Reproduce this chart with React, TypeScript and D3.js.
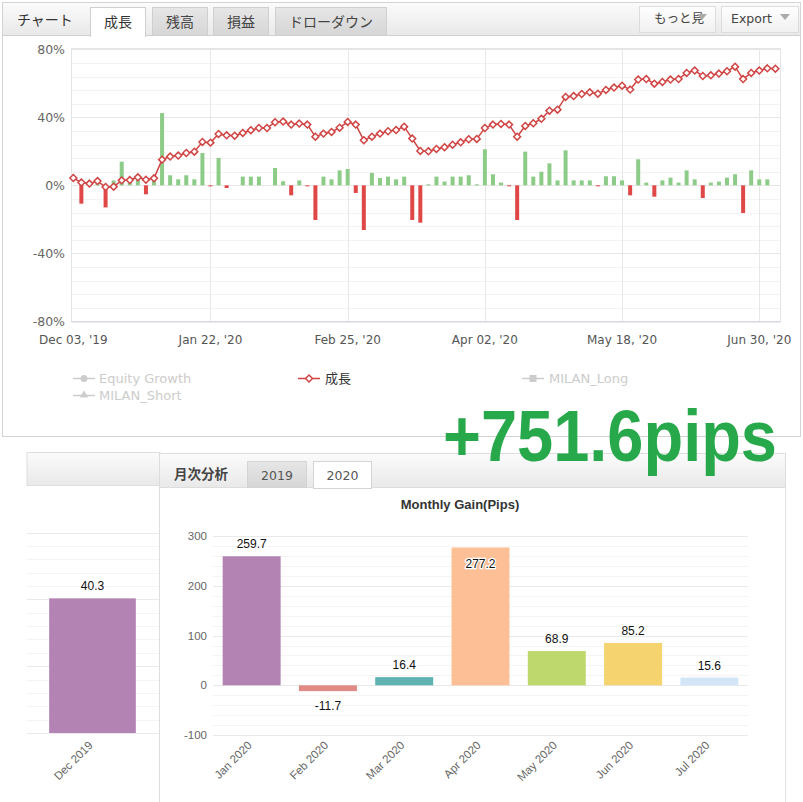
import React, { useRef, useEffect } from "react";
import * as d3 from "d3";

// 成長 (%), one point per step
const growth = [
  4.3, 1.6, 1.0, 2.5, -1.0, -0.8, 2.9, 3.1, 4.7, 3.3, 4.1, 15.1, 16.9, 17.5, 19.0, 19.8, 25.5, 25.1,
  30.2, 29.4, 29.2, 30.8, 32.4, 33.7, 33.7, 37.1, 37.5, 35.7, 36.3, 35.7, 28.6, 30.4, 31.4, 33.9,
  37.3, 35.7, 26.5, 28.6, 30.4, 31.8, 32.5, 34.5, 27.5, 20.2, 20.0, 21.4, 22.4, 23.9, 25.3, 27.1,
  27.3, 33.7, 35.7, 36.1, 35.7, 28.6, 34.9, 36.5, 39.1, 43.9, 44.5, 52.0, 52.5, 53.7, 54.7, 53.9,
  56.1, 57.5, 58.6, 56.3, 62.2, 62.5, 59.8, 60.8, 62.2, 62.5, 66.1, 67.5, 64.3, 64.7, 65.7, 67.1,
  69.8, 62.5, 66.1, 67.5, 68.8, 68.6,
];

// per-step gain bars (%)
const stepGain = [
  0, -10.8, 0, 2, -13, 2.9, 13.9, 2.5, 4.3, -5.3, 2.9, 42.5, 5.9, 3.5, 5.9, 3.5, 19.0, -0.6, 16.1,
  -1.6, 0, 5.1, 5.1, 5.1, 0, 10.2, 2.4, -5.9, 2.9, -0.6, -20.4, 5.1, 3.5, 8.8, 9.6, -4.5, -26.3,
  7.3, 4.3, 5.1, 3.5, 5.1, -20.4, -22.0, 0.6, 5.1, 2.2, 5.1, 5.1, 5.9, 0.6, 21.2, 6.5, 1.6, -0.6,
  -20.4, 19.8, 5.1, 8.0, 12.9, 2.9, 20.6, 2.9, 2.9, 2.9, -0.6, 5.3, 5.3, 2.9, -5.9, 15.3, 1.6,
  -6.7, 2.9, 4.5, 1.6, 8.8, 3.5, -7.5, 1.6, 2.2, 4.5, 6.5, -16.3, 8.8, 3.5, 3.5, 0,
];

const xTickIndex = [0, 17, 34, 51, 68, 85];
const xTickLabels = ["Dec 03, '19", "Jan 22, '20", "Feb 25, '20", "Apr 02, '20", "May 18, '20", "Jun 30, '20"];
const yTicks = [80, 40, 0, -40, -80];

const tabs = ["成長", "残高", "損益", "ドローダウン"];

const months2019 = ["Dec 2019"];
const pips2019 = [40.3];
const months2020 = ["Jan 2020", "Feb 2020", "Mar 2020", "Apr 2020", "May 2020", "Jun 2020", "Jul 2020"];
const pips2020 = [259.7, -11.7, 16.4, 277.2, 68.9, 85.2, 15.6];
const barColors = ["#b384b3", "#e08a86", "#5fb3b3", "#fdbf96", "#bfd86e", "#f5d36e", "#d3e6f7"];
const pipTicks = [300, 200, 100, 0, -100];

const SANS = "'DejaVu Sans', Verdana, sans-serif";
const ARIAL = "'Liberation Sans', Arial, sans-serif";
const JP = "'Noto Sans CJK JP', sans-serif";

const App: React.FC = () => {
  const svgRef = useRef<SVGSVGElement | null>(null);

  useEffect(() => {
    if (!svgRef.current) return;
    const svg = d3.select(svgRef.current);
    svg.selectAll("*").remove();

    const defs = svg.append("defs");
    const grad = (id: string, a: string, b: string) => {
      const g = defs.append("linearGradient").attr("id", id).attr("x1", 0).attr("y1", 0).attr("x2", 0).attr("y2", 1);
      g.append("stop").attr("offset", "0%").attr("stop-color", a);
      g.append("stop").attr("offset", "100%").attr("stop-color", b);
    };
    grad("hdr", "#fbfbfb", "#e9e9e9");
    grad("tabOff", "#e6e6e6", "#d6d6d6");
    grad("btn", "#ffffff", "#f0f0f0");

    // ---------- top panel ----------
    svg.append("rect").attr("x", 2.5).attr("y", 2.5).attr("width", 798).attr("height", 434)
      .attr("fill", "#fff").attr("stroke", "#d4d4d4");
    svg.append("rect").attr("x", 3).attr("y", 3).attr("width", 797).attr("height", 32).attr("fill", "url(#hdr)");
    svg.append("line").attr("x1", 3).attr("x2", 800).attr("y1", 35.5).attr("y2", 35.5).attr("stroke", "#d0d0d0");

    svg.append("text").attr("x", 17).attr("y", 25).attr("font-family", JP).attr("font-size", 14)
      .attr("fill", "#333").text("チャート");

    const tabX = [90, 152, 213, 275];
    const tabW = [55, 55, 55, 111];
    tabs.forEach((t, i) => {
      const active = i === 0;
      svg.append("rect").attr("x", tabX[i] + 0.5).attr("y", 7.5).attr("width", tabW[i]).attr("height", active ? 29 : 28)
        .attr("fill", active ? "#fff" : "url(#tabOff)").attr("stroke", "#cfcfcf");
      if (active) {
        svg.append("rect").attr("x", tabX[i] + 1).attr("y", 34).attr("width", tabW[i] - 1).attr("height", 3).attr("fill", "#fff");
      }
      svg.append("text").attr("x", tabX[i] + tabW[i] / 2 + 0.5).attr("y", 27).attr("text-anchor", "middle")
        .attr("font-family", JP).attr("font-size", 14).attr("fill", active ? "#333" : "#444").text(t);
    });

    const buttons = [
      { x: 639, w: 76, label: "もっと見", font: JP, tx: 654 },
      { x: 721, w: 77, label: "Export", font: SANS, tx: 731 },
    ];
    buttons.forEach((b) => {
      svg.append("rect").attr("x", b.x + 0.5).attr("y", 6.5).attr("width", b.w).attr("height", 26)
        .attr("fill", "url(#btn)").attr("stroke", "#dcdcdc");
      svg.append("text").attr("x", b.tx).attr("y", 23).attr("font-family", b.font).attr("font-size", 12.5)
        .attr("fill", "#444").text(b.label);
      const tx = b.x + b.w - 13;
      svg.append("path").attr("d", `M${tx - 5},14 L${tx + 5},14 L${tx},20 Z`).attr("fill", "#aaa");
    });

    // chart area
    const x = d3.scaleLinear().domain([0, growth.length - 1]).range([73.3, 775.4]);
    const y = d3.scaleLinear().domain([-80, 80]).range([321.3, 49.3]);
    const left = 72, right = 780;

    const g = svg.append("g");
    g.selectAll(".minor").data(d3.range(-80, 81, 8)).enter().append("line")
      .attr("x1", left).attr("x2", right).attr("y1", (d) => Math.round(y(d)) + 0.5).attr("y2", (d) => Math.round(y(d)) + 0.5)
      .attr("stroke", "#f3f3f3");
    g.selectAll(".major").data(yTicks).enter().append("line")
      .attr("x1", left).attr("x2", right).attr("y1", (d) => Math.round(y(d)) + 0.5).attr("y2", (d) => Math.round(y(d)) + 0.5)
      .attr("stroke", "#e6e6e6");
    g.selectAll(".vgrid").data(xTickIndex.slice(1)).enter().append("line")
      .attr("x1", (d) => Math.round(x(d)) + 0.5).attr("x2", (d) => Math.round(x(d)) + 0.5)
      .attr("y1", 49).attr("y2", 321).attr("stroke", "#e8e8e8");
    g.append("rect").attr("x", left - 0.5).attr("y", 48.5).attr("width", right - left + 1).attr("height", 273)
      .attr("fill", "none").attr("stroke", "#e4e4e4");
    g.append("line").attr("x1", left - 0.5).attr("x2", right + 0.5).attr("y1", 321.8).attr("y2", 321.8)
      .attr("stroke", "#d6d6e4").attr("stroke-width", 1.5);

    g.selectAll(".ylab").data(yTicks).enter().append("text")
      .attr("x", 65).attr("y", (d) => y(d) + 4.5).attr("text-anchor", "end")
      .attr("font-family", SANS).attr("font-size", 12.5).attr("fill", "#666")
      .text((d) => `${d}%`);
    g.selectAll(".xlab").data(xTickIndex).enter().append("text")
      .attr("x", (d) => x(d)).attr("y", 344).attr("text-anchor", "middle")
      .attr("font-family", SANS).attr("font-size", 12).attr("fill", "#555")
      .text((_, i) => xTickLabels[i]);

    // bars
    g.selectAll(".bar").data(stepGain).enter().append("rect")
      .attr("x", (_, i) => x(i) - 2)
      .attr("width", 4)
      .attr("y", (d) => (d >= 0 ? y(d) : y(0)))
      .attr("height", (d) => Math.abs(y(d) - y(0)))
      .attr("fill", (d) => (d >= 0 ? "#8dcb88" : "#e04848"));

    // line
    const line = d3.line<number>().x((_, i) => x(i)).y((d) => y(d));
    g.append("path").datum(growth).attr("fill", "none").attr("stroke", "#d04444").attr("stroke-width", 1.5).attr("d", line);
    const diamond = d3.symbol().type(d3.symbolDiamond2).size(30);
    g.selectAll(".pt").data(growth).enter().append("path")
      .attr("d", diamond)
      .attr("transform", (d, i) => `translate(${x(i)},${y(d)})`)
      .attr("fill", "#fff").attr("stroke", "#d04444").attr("stroke-width", 1.5);

    // legend
    const lg = svg.append("g").attr("font-family", SANS).attr("font-size", 13);
    const gray = "#cccccc";
    lg.append("line").attr("x1", 73).attr("x2", 95).attr("y1", 378.5).attr("y2", 378.5).attr("stroke", gray).attr("stroke-width", 1.5);
    lg.append("circle").attr("cx", 84).attr("cy", 378.5).attr("r", 3.5).attr("fill", gray);
    lg.append("text").attr("x", 99).attr("y", 383).attr("fill", gray).text("Equity Growth");
    lg.append("line").attr("x1", 73).attr("x2", 95).attr("y1", 395.5).attr("y2", 395.5).attr("stroke", gray).attr("stroke-width", 1.5);
    lg.append("path").attr("d", d3.symbol().type(d3.symbolTriangle).size(30)).attr("transform", "translate(84,395)").attr("fill", gray);
    lg.append("text").attr("x", 99).attr("y", 400).attr("fill", gray).text("MILAN_Short");
    lg.append("line").attr("x1", 298).attr("x2", 320).attr("y1", 378.5).attr("y2", 378.5).attr("stroke", "#d04444").attr("stroke-width", 1.5);
    lg.append("path").attr("d", diamond).attr("transform", "translate(309,378.5)").attr("fill", "#fff").attr("stroke", "#d04444").attr("stroke-width", 1.5);
    lg.append("text").attr("x", 325).attr("y", 383).attr("fill", "#333").attr("font-family", JP).text("成長");
    lg.append("line").attr("x1", 522).attr("x2", 544).attr("y1", 378.5).attr("y2", 378.5).attr("stroke", gray).attr("stroke-width", 1.5);
    lg.append("rect").attr("x", 529.5).attr("y", 375).attr("width", 7).attr("height", 7).attr("fill", gray);
    lg.append("text").attr("x", 549).attr("y", 383).attr("fill", gray).text("MILAN_Long");

    // ---------- bottom panels ----------
    svg.append("rect").attr("x", 27).attr("y", 452.5).attr("width", 133).attr("height", 33).attr("fill", "url(#hdr)")
      .attr("stroke", "#dddddd");
    svg.append("rect").attr("x", 159.5).attr("y", 453.5).attr("width", 626).attr("height", 34).attr("fill", "url(#hdr)")
      .attr("stroke", "#dddddd");
    svg.append("line").attr("x1", 159.5).attr("x2", 159.5).attr("y1", 487).attr("y2", 802).attr("stroke", "#dddddd");
    svg.append("line").attr("x1", 785.5).attr("x2", 785.5).attr("y1", 487).attr("y2", 802).attr("stroke", "#e4e4e4");

    svg.append("text").attr("x", 174).attr("y", 479).attr("font-family", JP).attr("font-size", 13.5)
      .attr("font-weight", "bold").attr("fill", "#444").text("月次分析");
    const yearTabs = [
      { label: "2019", x: 247, w: 59, active: false },
      { label: "2020", x: 313, w: 58, active: true },
    ];
    yearTabs.forEach((t) => {
      svg.append("rect").attr("x", t.x + 0.5).attr("y", 461.5).attr("width", t.w).attr("height", t.active ? 27 : 26)
        .attr("fill", t.active ? "#fff" : "url(#tabOff)").attr("stroke", "#d4d4d4");
      svg.append("text").attr("x", t.x + t.w / 2 + 0.5).attr("y", 480).attr("text-anchor", "middle")
        .attr("font-family", SANS).attr("font-size", 12.5).attr("fill", "#555").text(t.label);
    });

    // left chart (2019)
    const yl = d3.scaleLinear().domain([0, 60]).range([733, 532.5]);
    const xl = d3.scaleBand().domain(months2019).range([27.5, 157.5]).padding(0.2);
    const gl = svg.append("g");
    gl.selectAll(".lminor").data(d3.range(0, 61, 4)).enter().append("line")
      .attr("x1", 27).attr("x2", 159).attr("y1", (d) => Math.round(yl(d)) + 0.5).attr("y2", (d) => Math.round(yl(d)) + 0.5)
      .attr("stroke", "#f4f4f4");
    gl.selectAll(".lmajor").data(d3.range(0, 61, 20)).enter().append("line")
      .attr("x1", 27).attr("x2", 159).attr("y1", (d) => Math.round(yl(d)) + 0.5).attr("y2", (d) => Math.round(yl(d)) + 0.5)
      .attr("stroke", "#e9e9e9");
    gl.selectAll(".lbar").data(pips2019).enter().append("rect")
      .attr("x", (_, i) => xl(months2019[i]) as number).attr("width", xl.bandwidth())
      .attr("y", (d) => yl(d)).attr("height", (d) => yl(0) - yl(d)).attr("fill", barColors[0]);
    gl.selectAll(".lval").data(pips2019).enter().append("text")
      .attr("x", (_, i) => (xl(months2019[i]) as number) + xl.bandwidth() / 2).attr("y", (d) => yl(d) - 8)
      .attr("text-anchor", "middle").attr("font-family", ARIAL).attr("font-size", 12).attr("fill", "#111")
      .text((d) => d.toFixed(1));
    gl.selectAll(".lxl").data(months2019).enter().append("text")
      .attr("transform", (d) => `translate(${(xl(d) as number) + xl.bandwidth() / 2 + 1},${746}) rotate(-45)`)
      .attr("text-anchor", "end").attr("font-family", ARIAL).attr("font-size", 11.5).attr("fill", "#666")
      .text((d) => d);

    // right chart (2020)
    const yr = d3.scaleLinear().domain([-100, 300]).range([735, 536.2]);
    const xr = d3.scaleBand().domain(months2020).range([213.5, 747.5]).paddingInner(0.24).paddingOuter(0.12);
    const gr = svg.append("g");
    gr.append("text").attr("x", 460).attr("y", 509).attr("text-anchor", "middle").attr("font-family", ARIAL)
      .attr("font-size", 13).attr("font-weight", "bold").attr("fill", "#333").text("Monthly Gain(Pips)");
    gr.selectAll(".rminor").data(d3.range(-100, 301, 20)).enter().append("line")
      .attr("x1", 213).attr("x2", 748).attr("y1", (d) => Math.round(yr(d)) + 0.5).attr("y2", (d) => Math.round(yr(d)) + 0.5)
      .attr("stroke", "#f4f4f4");
    gr.selectAll(".rmajor").data(pipTicks).enter().append("line")
      .attr("x1", 213).attr("x2", 748).attr("y1", (d) => Math.round(yr(d)) + 0.5).attr("y2", (d) => Math.round(yr(d)) + 0.5)
      .attr("stroke", "#e9e9e9");
    gr.selectAll(".ryl").data(pipTicks).enter().append("text")
      .attr("x", 207).attr("y", (d) => yr(d) + 4).attr("text-anchor", "end")
      .attr("font-family", ARIAL).attr("font-size", 11.5).attr("fill", "#666").text((d) => d);
    gr.selectAll(".rbar").data(pips2020).enter().append("rect")
      .attr("x", (_, i) => xr(months2020[i]) as number).attr("width", xr.bandwidth())
      .attr("y", (d) => (d >= 0 ? yr(d) : yr(0))).attr("height", (d) => Math.abs(yr(0) - yr(d)))
      .attr("fill", (_, i) => barColors[i]);
    gr.selectAll(".rval").data(pips2020).enter().append("text")
      .attr("x", (_, i) => (xr(months2020[i]) as number) + xr.bandwidth() / 2)
      .attr("y", (d) => (d < 0 ? yr(d) + 19 : yr(d) < 556 ? yr(d) + 20 : yr(d) - 8))
      .attr("text-anchor", "middle").attr("font-family", ARIAL).attr("font-size", 12).attr("fill", "#111")
      .attr("stroke", (d) => (yr(d) < 556 ? "#fff" : "none")).attr("stroke-width", 2.5).attr("paint-order", "stroke")
      .text((d) => d.toFixed(1));
    gr.selectAll(".rxl").data(months2020).enter().append("text")
      .attr("transform", (d) => `translate(${(xr(d) as number) + xr.bandwidth() / 2 + 1},${746}) rotate(-45)`)
      .attr("text-anchor", "end").attr("font-family", ARIAL).attr("font-size", 11.5).attr("fill", "#666")
      .text((d) => d);

    // big total
    svg.append("text").attr("x", 443).attr("y", 461).attr("font-family", ARIAL).attr("font-weight", "bold")
      .attr("font-size", 72).attr("fill", "#27a84a").attr("textLength", 334).attr("lengthAdjust", "spacingAndGlyphs")
      .text("+751.6pips");
  }, []);

  return (
    <svg
      ref={svgRef}
      width={803}
      height={802}
      style={{ position: "absolute", left: 0, top: 0, background: "#fff" }}
    ></svg>
  );
};

export default App;
